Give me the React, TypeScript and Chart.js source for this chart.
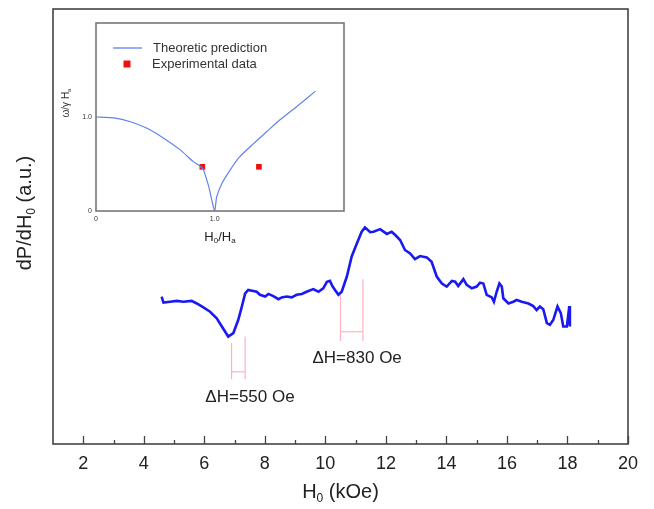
import React, { useEffect, useRef } from "react";
import { Chart, registerables } from "chart.js";
Chart.register(...registerables);

// ---------- main spectrum ----------
const fieldKOe = [
  4.59, 4.65, 4.87, 5.09, 5.31, 5.58, 5.75, 5.97, 6.19, 6.41,
  6.58, 6.79, 6.96, 7.12, 7.24, 7.35, 7.45, 7.73, 7.84, 8.01,
  8.12, 8.28, 8.45, 8.56, 8.72, 8.89, 9.05, 9.22, 9.38, 9.60,
  9.77, 9.93, 10.05, 10.15, 10.24,
  10.43, 10.54, 10.71, 10.87, 11.04, 11.20, 11.31, 11.48, 11.59, 11.81,
  12.03, 12.19, 12.30, 12.47, 12.63, 12.80, 12.96, 13.13, 13.35, 13.51,
  13.68, 13.85, 14.01, 14.18, 14.29, 14.39, 14.56, 14.67, 14.84, 15.00,
  15.11, 15.22, 15.33, 15.50, 15.57, 15.66, 15.75, 15.83, 15.88, 16.05,
  16.21, 16.32, 16.49, 16.71, 16.87, 16.98, 17.09, 17.20, 17.32, 17.42,
  17.53, 17.67, 17.78, 17.86, 17.98, 18.06, 18.08,
];
const signal = [
  33.9, 32.5, 32.7, 32.9, 32.7, 32.9, 32.3, 31.4, 30.4, 28.9,
  27.0, 24.7, 25.5, 28.5, 31.6, 34.6, 35.4, 35.0, 34.3, 33.9,
  34.5, 34.0, 33.3, 33.7, 33.9, 33.7, 34.3, 34.5, 35.0, 35.6,
  35.0, 35.8, 37.3, 37.5, 36.2,
  34.3, 35.0, 38.5, 43.1, 46.1, 48.8, 49.8, 48.7, 48.8, 49.4,
  48.3, 48.8, 48.1, 46.9, 44.6, 43.8, 42.5, 43.2, 42.9, 41.9,
  38.5, 36.9, 36.2, 37.5, 37.3, 36.3, 37.9, 36.6, 35.8, 36.2,
  37.1, 36.9, 34.3, 33.7, 32.7, 35.0, 36.9, 36.2, 33.5, 32.3,
  32.7, 33.1, 32.7, 32.3, 31.7, 30.8, 31.6, 31.0, 27.8, 27.4,
  28.5, 31.6, 30.1, 27.0, 27.0, 31.7, 27.0,
];
const xMajorTicks = [2, 4, 6, 8, 10, 12, 14, 16, 18, 20];
const xMajorTickLabels = ["2", "4", "6", "8", "10", "12", "14", "16", "18", "20"];
const xMinorTicks = [3, 5, 7, 9, 11, 13, 15, 17, 19];

// linewidth brackets: [left x, right x], [left top, right top], bottom, bar level
const bracketX = [[6.90, 7.35], [10.50, 11.24]];
const bracketTop = [[23.2, 24.7], [34.2, 37.9]];
const bracketBottom = [14.9, 23.7];
const bracketBar = [16.6, 25.8];
const annotationTexts = ["\u0394H=550 Oe", "\u0394H=830 Oe"];
const annotationX = [7.51, 11.05];
const annotationY = [10.8, 19.8];

// ---------- inset ----------
const insetRatio = [0, 0.15, 0.29, 0.43, 0.57, 0.71, 0.82, 0.90, 0.95, 0.975, 1.0, 1.017, 1.06, 1.13, 1.21, 1.33, 1.44, 1.55, 1.69, 1.85];
const insetFreq = [1.0, 0.99, 0.95, 0.88, 0.775, 0.65, 0.525, 0.45, 0.26, 0.12, 0, 0.15, 0.29, 0.435, 0.575, 0.72, 0.845, 0.97, 1.11, 1.275];
const expRatio = [0.896, 1.373];
const expFreq = [0.47, 0.47];
const insetXTicks = [0, 1.0];
const insetXTickLabels = ["0", "1.0"];
const insetYTicks = [0, 1.0];
const insetYTickLabels = ["0", "1.0"];

const FAMILY = "'Liberation Sans', Arial, Helvetica, sans-serif";

type Part = { t: string; sub?: boolean };

function drawRich(ctx: CanvasRenderingContext2D, parts: Part[], cx: number, cy: number, size: number, color: string) {
  const subSize = Math.round(size * 0.62);
  const widths: number[] = [];
  let total = 0;
  for (const p of parts) {
    ctx.font = `${p.sub ? subSize : size}px ${FAMILY}`;
    const w = ctx.measureText(p.t).width;
    widths.push(w);
    total += w;
  }
  let x = cx - total / 2;
  ctx.fillStyle = color;
  ctx.textAlign = "left";
  ctx.textBaseline = "middle";
  parts.forEach((p, i) => {
    ctx.font = `${p.sub ? subSize : size}px ${FAMILY}`;
    ctx.fillText(p.t, x, p.sub ? cy + size * 0.32 : cy);
    x += widths[i];
  });
}

const mainDecor = {
  id: "mainDecor",
  afterDraw(chart: any) {
    const ctx: CanvasRenderingContext2D = chart.ctx;
    const { left, right, top, bottom } = chart.chartArea;
    const xs = chart.scales.x;
    const ys = chart.scales.y;
    ctx.save();
    // frame
    ctx.strokeStyle = "#444";
    ctx.lineWidth = 1.6;
    ctx.strokeRect(left, top, right - left, bottom - top);
    // ticks
    ctx.lineWidth = 1.3;
    ctx.beginPath();
    xMajorTicks.forEach((v) => {
      const px = Math.round(xs.getPixelForValue(v)) + 0.5;
      ctx.moveTo(px, bottom);
      ctx.lineTo(px, bottom - 8);
    });
    xMinorTicks.forEach((v) => {
      const px = Math.round(xs.getPixelForValue(v)) + 0.5;
      ctx.moveTo(px, bottom);
      ctx.lineTo(px, bottom - 4);
    });
    ctx.stroke();
    // tick labels
    ctx.fillStyle = "#222";
    ctx.font = `18px ${FAMILY}`;
    ctx.textAlign = "center";
    ctx.textBaseline = "middle";
    xMajorTicks.forEach((v, i) => {
      ctx.fillText(xMajorTickLabels[i], xs.getPixelForValue(v), bottom + 20);
    });
    // axis titles
    drawRich(ctx, [{ t: "H" }, { t: "0", sub: true }, { t: " (kOe)" }], (left + right) / 2, 492, 20, "#222");
    ctx.save();
    ctx.translate(25, 213);
    ctx.rotate(-Math.PI / 2);
    drawRich(ctx, [{ t: "dP/dH" }, { t: "0", sub: true }, { t: " (a.u.)" }], 0, 0, 20, "#222");
    ctx.restore();
    // annotations
    ctx.fillStyle = "#222";
    ctx.font = `17px ${FAMILY}`;
    ctx.textAlign = "center";
    ctx.textBaseline = "middle";
    annotationTexts.forEach((t, i) => {
      ctx.fillText(t, xs.getPixelForValue(annotationX[i]), ys.getPixelForValue(annotationY[i]));
    });
    ctx.restore();
  },
};

const insetDecor = {
  id: "insetDecor",
  afterDraw(chart: any) {
    const ctx: CanvasRenderingContext2D = chart.ctx;
    const { left, right, top, bottom } = chart.chartArea;
    const xs = chart.scales.x;
    const ys = chart.scales.y;
    ctx.save();
    ctx.strokeStyle = "#777";
    ctx.lineWidth = 1.6;
    ctx.strokeRect(left, top, right - left, bottom - top);
    // tick labels
    ctx.fillStyle = "#333";
    ctx.font = `7px ${FAMILY}`;
    ctx.textBaseline = "middle";
    ctx.textAlign = "center";
    insetXTicks.forEach((v, i) => {
      ctx.fillText(insetXTickLabels[i], xs.getPixelForValue(v), bottom + 8);
    });
    ctx.textAlign = "right";
    insetYTicks.forEach((v, i) => {
      ctx.fillText(insetYTickLabels[i], left - 4, ys.getPixelForValue(v));
    });
    // titles
    drawRich(ctx, [{ t: "H" }, { t: "0", sub: true }, { t: "/H" }, { t: "a", sub: true }], 220, 237, 13, "#222");
    ctx.save();
    ctx.translate(66, 103);
    ctx.rotate(-Math.PI / 2);
    drawRich(ctx, [{ t: "\u03c9/\u03b3 H" }, { t: "a", sub: true }], 0, 0, 10, "#333");
    ctx.restore();
    // legend
    const ds = chart.data.datasets;
    ctx.strokeStyle = ds[0].borderColor;
    ctx.lineWidth = 1.3;
    ctx.beginPath();
    ctx.moveTo(113, 48);
    ctx.lineTo(142, 48);
    ctx.stroke();
    ctx.fillStyle = ds[1].backgroundColor;
    ctx.fillRect(123.5, 60.5, 7, 7);
    ctx.fillStyle = "#333";
    ctx.font = `13px ${FAMILY}`;
    ctx.textAlign = "left";
    ctx.textBaseline = "middle";
    ctx.fillText(ds[0].label, 153, 48);
    ctx.fillText(ds[1].label, 152, 64);
    ctx.restore();
  },
};

export default function App() {
  const mainRef = useRef<HTMLCanvasElement>(null);
  const insetRef = useRef<HTMLCanvasElement>(null);

  useEffect(() => {
    document.body.style.margin = "0";
    const lineColor = "#1a1af0";
    const pink = "#ffb3bd";
    const bracketSets: any[] = [];
    bracketX.forEach((bx, i) => {
      const segs = [
        [{ x: bx[0], y: bracketTop[i][0] }, { x: bx[0], y: bracketBottom[i] }],
        [{ x: bx[1], y: bracketTop[i][1] }, { x: bx[1], y: bracketBottom[i] }],
        [{ x: bx[0], y: bracketBar[i] }, { x: bx[1], y: bracketBar[i] }],
      ];
      segs.forEach((s) =>
        bracketSets.push({
          data: s,
          showLine: true,
          borderColor: pink,
          borderWidth: 1.2,
          pointRadius: 0,
        })
      );
    });

    const main = new Chart(mainRef.current!, {
      type: "scatter",
      data: {
        datasets: [
          {
            label: "signal",
            data: fieldKOe.map((x, i) => ({ x, y: signal[i] })),
            showLine: true,
            borderColor: lineColor,
            borderWidth: 2.6,
            pointRadius: 0,
            tension: 0,
          },
          ...bracketSets,
        ],
      },
      options: {
        animation: false,
        responsive: false,
        events: [],
        layout: { padding: { left: 53, top: 9, right: 26, bottom: 65 } },
        scales: {
          x: { type: "linear", min: 1, max: 20, display: false },
          y: { type: "linear", min: 0, max: 100, display: false },
        },
        plugins: { legend: { display: false }, tooltip: { enabled: false } },
      },
      plugins: [mainDecor],
    } as any);

    const inset = new Chart(insetRef.current!, {
      type: "scatter",
      data: {
        datasets: [
          {
            label: "Theoretic prediction",
            data: insetRatio.map((x, i) => ({ x, y: insetFreq[i] })),
            showLine: true,
            borderColor: "#6183ee",
            borderWidth: 1.2,
            pointRadius: 0,
            tension: 0.2,
          },
          {
            label: "Experimental data",
            data: expRatio.map((x, i) => ({ x, y: expFreq[i] })),
            showLine: false,
            pointStyle: "rect",
            pointRadius: 4,
            backgroundColor: "#ee1111",
            borderColor: "#ee1111",
            borderWidth: 0,
          },
        ],
      },
      options: {
        animation: false,
        responsive: false,
        events: [],
        layout: { padding: { left: 96, top: 23, right: 310, bottom: 298 } },
        scales: {
          x: { type: "linear", min: 0, max: 2.09, display: false },
          y: { type: "linear", min: 0, max: 2.0, display: false },
        },
        plugins: { legend: { display: false }, tooltip: { enabled: false } },
      },
      plugins: [insetDecor],
    } as any);

    return () => {
      main.destroy();
      inset.destroy();
    };
  }, []);

  return (
    <div style={{ position: "relative", width: 654, height: 509 }}>
      <canvas ref={mainRef} width={654} height={509} style={{ position: "absolute", left: 0, top: 0 }} />
      <canvas ref={insetRef} width={654} height={509} style={{ position: "absolute", left: 0, top: 0 }} />
    </div>
  );
}
